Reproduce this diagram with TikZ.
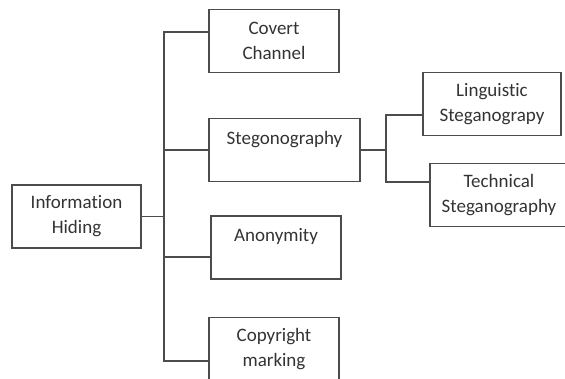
\documentclass[tikz,border=0pt]{standalone}
\usepackage{fontspec}
\setmainfont{Carlito}[Ligatures=NoCommon]
\begin{document}
\begin{tikzpicture}[x=1pt, y=-1pt, node distance=100pt]
\tikzstyle{box} = [rectangle, minimum width=130pt, minimum height=63pt, inner sep=0pt, align=center, draw=black!70, line width=1.3pt, text=black!80, font=\fontsize{19}{25}\selectfont]
\tikzstyle{widebox} = [box, minimum width=151pt]
\tikzstyle{subbox} = [box, minimum width=138pt]
\tikzstyle{line} = [draw=black!70, line width=1.3pt]

\useasboundingbox (0,0) rectangle (565,379);

%nodes
\node (info) [box, minimum width=129pt] at (76.5,216.5) {Information\\Hiding};
\node (steg) [widebox, right of=info, xshift=108pt, yshift=66.5pt] {Stegonography\\\mbox{}};
\node (covert) [box, above of=steg, xshift=-10.5pt, yshift=9pt] {Covert\\Channel};
\node (anon) [box, below of=steg, xshift=-8.5pt, yshift=2.5pt] {Anonymity\\\mbox{}};
\node (copy) [box, below of=anon, xshift=-2pt, yshift=-1.5pt] {Copyright\\marking};
\node (ling) [subbox, right of=steg, xshift=107.5pt, yshift=46pt] {Linguistic\\Steganograpy};
\node (tech) [subbox, below of=ling, xshift=7pt, yshift=9pt] {Technical\\Steganography};
\coordinate (trunk) at (164,216.5);
\coordinate (split) at (386,150);
\coordinate (anonin) at ([yshift=-9.5pt]anon.west);

%lines
\draw [line] (info) -- (trunk);
\draw [line] ([yshift=9pt]covert.west) -| (trunk) |- ([yshift=-12pt]copy.west);
\draw [line] (trunk |- steg) -- (steg);
\draw [line] (trunk |- anonin) -- (anonin);
\draw [line] (steg) -- (split);
\draw [line] ([yshift=-11pt]ling.west) -| (split) |- ([yshift=13pt]tech.west);
\end{tikzpicture}
\end{document}
